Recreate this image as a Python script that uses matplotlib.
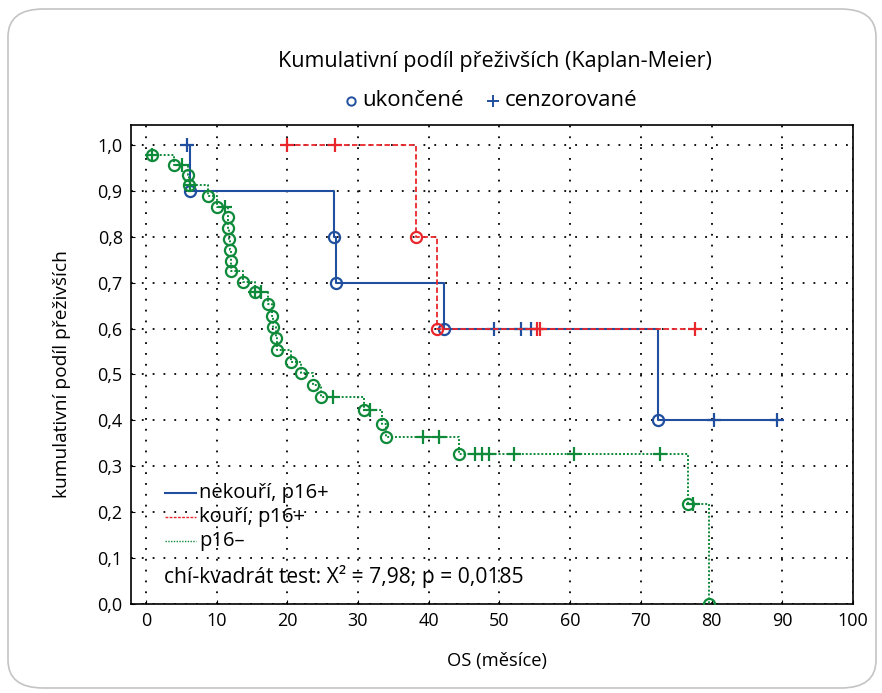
import numpy as np
import matplotlib as mpl
import matplotlib.pyplot as plt
from matplotlib.patches import FancyBboxPatch
from matplotlib.lines import Line2D

mpl.rcParams['font.family'] = ['Open Sans', 'DejaVu Sans']

# nekouří, p16+
blue_evt_t = [6.3, 26.6, 26.9, 42.1, 72.4]
blue_evt_s = [0.9, 0.8, 0.7, 0.6, 0.4]
blue_cens_t = [5.8, 49.2, 53.1, 54.5, 80.4, 89.2]

# kouří, p16+
red_evt_t = [38.2, 41.2]
red_evt_s = [0.8, 0.6]
red_cens_t = [19.9, 26.7, 55.3, 55.8, 77.7]

# p16-
green_evt_t = [0.89, 3.92, 5.99, 6.09, 8.82, 10.01, 11.57, 11.66, 11.7, 11.94,
               12.0, 12.08, 13.8, 15.4, 17.3, 17.8, 18.0, 18.4, 18.5, 20.5,
               21.9, 23.6, 24.7, 30.8, 33.4, 33.9, 44.3, 76.6, 79.6]
green_evt_s = [0.978, 0.956, 0.934, 0.912, 0.888, 0.865, 0.842, 0.819, 0.795, 0.771,
               0.748, 0.725, 0.702, 0.679, 0.653, 0.627, 0.603, 0.579, 0.553, 0.527,
               0.503, 0.477, 0.451, 0.423, 0.392, 0.363, 0.326, 0.217, 0.0]
green_cens_t = [0.89, 5.14, 6.23, 11.15, 15.4, 16.25, 26.5, 31.7, 39.2, 41.5,
                46.6, 47.5, 48.5, 52.0, 60.5, 72.7, 77.4]

group_labels = ['nekouří, p16+', 'kouří, p16+', 'p16–']
x_ticks = list(range(0, 101, 10))
y_ticks = [i / 10 for i in range(11)]
y_labels = ['%.1f' % v for v in y_ticks]
y_labels = [s.replace('.', ',') for s in y_labels]


def level(t, evt_t, evt_s):
    s = 1.0
    for te, se in zip(evt_t, evt_s):
        if te <= t:
            s = se
    return s


def km(ax, evt_t, evt_s, cens_t, color, ls, lw, z):
    times = sorted(set(evt_t) | set(cens_t))
    ys = [level(t, evt_t, evt_s) for t in times]
    ax.step(times, ys, where='post', color=color, ls=ls, lw=lw, zorder=z)
    ax.plot(evt_t, evt_s, 'o', ms=8, mfc='none', mec=color, mew=1.6, zorder=z + 1)
    cy = [level(t, evt_t, evt_s) for t in cens_t]
    ax.plot(cens_t, cy, '+', ms=10, mec=color, mew=1.6, zorder=z + 1)


blue = '#1f4f9e'
red = '#e8262b'
green = '#0f8a3a'

fig = plt.figure(figsize=(8.82, 6.93), dpi=100)
card = FancyBboxPatch((8 / 882, 5 / 693), 868 / 882, 679 / 693,
                      boxstyle='round,pad=0,rounding_size=0.04',
                      transform=fig.transFigure, fc='white', ec='#c4c4c4', lw=1.2,
                      zorder=-10)
fig.patches.append(card)

ax = fig.add_axes([131 / 882, 1 - 604 / 693, 722 / 882, 479 / 693])
ax.set_facecolor('none')

km(ax, blue_evt_t, blue_evt_s, blue_cens_t, blue, '-', 1.5, 3)
km(ax, red_evt_t, red_evt_s, red_cens_t, red, (0, (3, 1.5)), 1.3, 5)
km(ax, green_evt_t, green_evt_s, green_cens_t, green, (0, (1, 1)), 1.4, 7)

ax.set_xlim(-2.1, 100)
ax.set_ylim(0, 1.0435)
ax.set_xticks(x_ticks)
ax.set_yticks(y_ticks)
ax.set_yticklabels(y_labels)
ax.tick_params(direction='in', length=3, labelsize=13, width=0.8, pad=6)
ax.grid(True, color='black', ls=(0, (1, 5)), lw=1.3)
for sp in ax.spines.values():
    sp.set_linewidth(1.2)

ax.set_xlabel('OS (měsíce)', fontsize=13.2, va='center')
ax.xaxis.set_label_coords((497 - 131) / 722, (604 - 661) / 479)
ax.set_ylabel('kumulativní podíl přeživších', fontsize=13.8, va='center')
ax.yaxis.set_label_coords((62 - 131) / 722, (604 - 374) / 479)

# legend drawn by hand to keep the tight line spacing
leg_styles = [('-', 1.5, blue), ((0, (2, 1)), 1.0, red), ((0, (1, 1)), 1.0, green)]
leg_y = [(604 - 493) / 479, (604 - 517) / 479, (604 - 541) / 479]
for (ls, lw, c), yy, lab in zip(leg_styles, leg_y, group_labels):
    ax.add_line(Line2D([(165 - 131) / 722, (196 - 131) / 722], [yy, yy], color=c,
                       ls=ls, lw=lw, transform=ax.transAxes, zorder=10))
    ax.text((199 - 131) / 722, yy, lab, transform=ax.transAxes, fontsize=14.5,
            va='center', ha='left', zorder=10)

ax.text((164 - 131) / 722, (604 - 577) / 479, 'chí-kvadrát test: X² = 7,98; p = 0,0185',
        transform=ax.transAxes, fontsize=15.2, va='center', ha='left')

fig.text(495 / 882, 1 - 62 / 693, 'Kumulativní podíl přeživších (Kaplan-Meier)',
         fontsize=15.5, ha='center', va='center')
fig.text(362 / 882, 1 - 100 / 693, 'ukončené', fontsize=16, ha='left', va='center')
fig.text(505 / 882, 1 - 100 / 693, 'cenzorované', fontsize=16, ha='left', va='center')
fig.lines.append(Line2D([351 / 882], [1 - 101 / 693], marker='o', ms=6, mfc='none',
                        mec=blue, mew=1.4, transform=fig.transFigure))
fig.lines.append(Line2D([493 / 882], [1 - 101 / 693], marker='+', ms=8,
                        mec=blue, mew=1.4, transform=fig.transFigure))

fig.savefig('out.png', dpi=100)
